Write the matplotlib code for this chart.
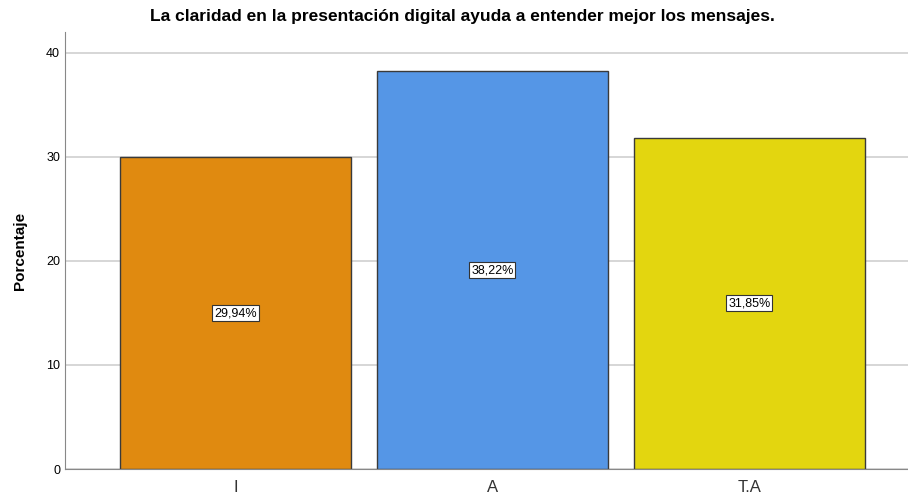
import matplotlib
matplotlib.use("Agg")
import matplotlib.pyplot as plt

categories = ["I", "A", "T.A"]
values = [29.94, 38.22, 31.85]
labels = ["29,94%", "38,22%", "31,85%"]
colors = ["#E08A10", "#5596E6", "#E3D60F"]
yticks = [0, 10, 20, 30, 40]

plt.rcParams['font.family'] = ['Liberation Sans', 'DejaVu Sans']

fig = plt.figure(figsize=(9.08, 4.95), dpi=100)
ax = fig.add_axes([65/908, 1-469/495, 1-65/908, (469-32)/495])

x = list(range(len(categories)))
ax.set_axisbelow(True)
ax.yaxis.grid(True, color="#D0D0D0", linewidth=1.2)
bars = ax.bar(x, values, width=0.9, color=colors, edgecolor="#3A3A3A", linewidth=1.0)
for xi, v, lab in zip(x, values, labels):
    ax.text(xi, v/2, lab, ha="center", va="center", fontsize=9,
            bbox=dict(boxstyle="square,pad=0.15", facecolor="white", edgecolor="#333333", linewidth=0.8))

ax.set_xlim(-0.663, 2.617)
ax.set_ylim(0, 42.0)
ax.set_xticks(x)
ax.set_xticklabels(categories, fontsize=12, color="#333333", stretch="condensed")
ax.set_yticks(yticks)
ax.set_yticklabels([str(t) for t in yticks], fontsize=9)
ax.tick_params(axis="both", length=0)
ax.tick_params(axis="x", pad=8)
for s in ["top", "right"]:
    ax.spines[s].set_visible(False)
ax.spines["left"].set_color("#888888")
ax.spines["bottom"].set_color("#888888")
ax.set_ylabel("Porcentaje", fontsize=11, fontweight="bold", labelpad=14)
fig.text(0.509, 1-16/495, "La claridad en la presentación digital ayuda a entender mejor los mensajes.",
         ha="center", va="center", fontsize=12.5, fontweight="bold")

fig.savefig("out.png", dpi=100)
